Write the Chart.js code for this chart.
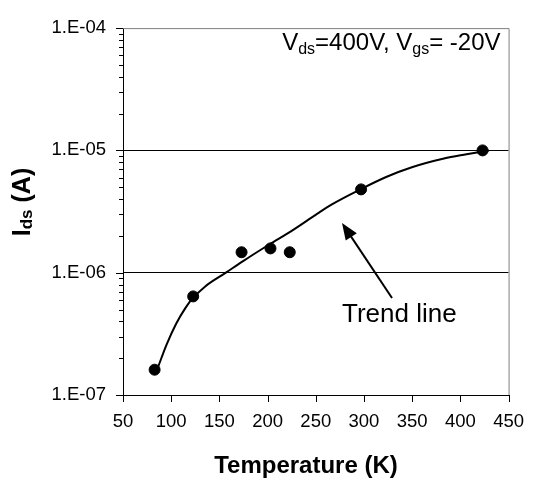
<!DOCTYPE html>
<html>
<head>
<meta charset="UTF-8">
<title>Ids vs Temperature</title>
<style type="text/css">
body { margin: 0; background: #fff; }
#wrap { width: 540px; height: 479px; }
</style>
</head>
<body>
	<div id="wrap"><canvas id="myChart" width="540" height="479"></canvas></div>

<script src="https://cdn.jsdelivr.net/npm/chart.js@4.4.0/dist/chart.umd.min.js"></script>
<script>
	// 측정값 (Temperature K, Ids A)
	var measTemp = [82.8, 122.8, 173, 203, 223, 297, 423];
	var measIds = [1.61e-7, 6.4e-7, 1.47e-6, 1.58e-6, 1.47e-6, 4.8e-6, 1.0e-5];

	// 추세선
	var trendTemp = [86.7, 95, 105, 115, 121.7, 135, 156.7, 175, 201.7, 225, 251.7, 266.3, 297, 323, 349.7, 383, 406.3, 429.7];
	var trendIds = [1.72e-7, 2.56e-7, 3.81e-7, 5.18e-7, 6.1e-7, 7.69e-7, 1.0e-6, 1.25e-6, 1.70e-6, 2.20e-6, 3.04e-6, 3.6e-6, 4.83e-6, 6.06e-6, 7.28e-6, 8.58e-6, 9.29e-6, 1.0e-5];

	// 축 눈금
	var yMajorTicks = [1e-7, 1e-6, 1e-5, 1e-4];
	var yTickLabels = ['1.E-07', '1.E-06', '1.E-05', '1.E-04'];
	var yGridLines = [1e-6, 1e-5];
	var xTicks = [50, 100, 150, 200, 250, 300, 350, 400, 450];

	var FONT = '"Liberation Sans", Arial, sans-serif';

	function toPoints(xs, ys) {
		var out = [];
		for (var i = 0; i < xs.length; i++) out.push({x: xs[i], y: ys[i]});
		return out;
	}

	// 아래첨자 있는 글자 그리기
	function drawParts(ctx, parts, x, y) {
		parts.forEach(function(p) {
			ctx.font = p[1];
			ctx.fillText(p[0], x, y + p[2]);
			x += ctx.measureText(p[0]).width;
		});
	}
	function partsWidth(ctx, parts) {
		var w = 0;
		parts.forEach(function(p) { ctx.font = p[1]; w += ctx.measureText(p[0]).width; });
		return w;
	}

	// 축 눈금, 테두리, 글자 그리기
	var decorPlugin = {
		id: 'decor',
		afterDraw: function(chart) {
			var ctx = chart.ctx;
			var a = chart.chartArea;
			var xs = chart.scales.x, ys = chart.scales.y;
			ctx.save();

			// 위, 오른쪽 테두리 (회색)
			ctx.strokeStyle = '#808080';
			ctx.lineWidth = 1;
			ctx.beginPath();
			ctx.moveTo(a.left, a.top + 0.5);
			ctx.lineTo(a.right + 0.5, a.top + 0.5);
			ctx.lineTo(a.right + 0.5, a.bottom);
			ctx.stroke();

			// 눈금선
			ctx.strokeStyle = '#000';
			ctx.beginPath();
			xTicks.forEach(function(v) {
				var px = Math.round(xs.getPixelForValue(v)) + 0.5;
				ctx.moveTo(px, a.bottom);
				ctx.lineTo(px, a.bottom + 7);
			});
			for (var d = -7; d <= -4; d++) {
				for (var m = 1; m <= 9; m++) {
					var v = m * Math.pow(10, d);
					if (v > 1.0001e-4) break;
					var py = Math.round(ys.getPixelForValue(v)) + 0.5;
					ctx.moveTo(a.left, py);
					ctx.lineTo(a.left - (m === 1 ? 7 : 4), py);
				}
			}
			ctx.stroke();

			// 조건 표시
			ctx.fillStyle = '#000';
			ctx.textBaseline = 'alphabetic';
			ctx.textAlign = 'left';
			var big = '24px ' + FONT, small = '16px ' + FONT;
			var cond = [['V', big, 0], ['ds', small, 4], ['=400V, V', big, 0], ['gs', small, 4], ['= -20V', big, 0]];
			drawParts(ctx, cond, a.right - 8 - partsWidth(ctx, cond), 50);

			// 추세선 화살표
			var x0 = 392, y0 = 298, x1 = 342, y1 = 223;
			var ang = Math.atan2(y1 - y0, x1 - x0);
			ctx.lineWidth = 2;
			ctx.beginPath();
			ctx.moveTo(x0, y0);
			ctx.lineTo(x1 - 14 * Math.cos(ang), y1 - 14 * Math.sin(ang));
			ctx.stroke();
			ctx.beginPath();
			ctx.moveTo(x1, y1);
			ctx.lineTo(x1 - 18 * Math.cos(ang - 0.38), y1 - 18 * Math.sin(ang - 0.38));
			ctx.lineTo(x1 - 18 * Math.cos(ang + 0.38), y1 - 18 * Math.sin(ang + 0.38));
			ctx.closePath();
			ctx.fill();

			ctx.font = '26px ' + FONT;
			ctx.fillText('Trend line', 342, 322);

			// x축 제목
			ctx.font = 'bold 24px ' + FONT;
			ctx.textAlign = 'center';
			ctx.textBaseline = 'middle';
			ctx.fillText('Temperature (K)', 306, 466);

			// y축 제목 (세로)
			ctx.translate(23, 202);
			ctx.rotate(-Math.PI / 2);
			ctx.textAlign = 'left';
			var yparts = [['I', 'bold 25px ' + FONT, 0], ['ds', 'bold 17px ' + FONT, 4], [' (A)', 'bold 25px ' + FONT, 0]];
			drawParts(ctx, yparts, -partsWidth(ctx, yparts) / 2, 0);
			ctx.restore();
		}
	};

	var ctx = document.getElementById('myChart').getContext('2d');
	var chart = new Chart(ctx, {
		type: 'scatter',
		data: {
			datasets: [{
				label: 'Trend line',
				data: toPoints(trendTemp, trendIds),
				showLine: true,
				borderColor: '#000',
				borderWidth: 2,
				pointRadius: 0,
				cubicInterpolationMode: 'monotone',
				fill: false
			}, {
				label: 'Ids',
				data: toPoints(measTemp, measIds),
				backgroundColor: '#000',
				borderColor: '#000',
				pointRadius: 5.5,
				pointHoverRadius: 5.5
			}]
		},
		options: {
			responsive: false,
			animation: false,
			layout: { padding: { left: 0, top: 18, right: 17, bottom: 0 } },
			plugins: { legend: { display: false }, tooltip: { enabled: false } },
			scales: {
				x: {
					type: 'linear',
					min: 50,
					max: 450,
					afterFit: function(s) { s.height = 84; },
					afterBuildTicks: function(s) { s.ticks = xTicks.map(function(v) { return {value: v}; }); },
					grid: { display: false, drawTicks: false },
					border: { display: true, color: '#000', width: 1 },
					ticks: { color: '#000', padding: 16, maxRotation: 0, font: { family: FONT, size: 18.5 } }
				},
				y: {
					type: 'logarithmic',
					min: 1e-7,
					max: 1e-4,
					afterFit: function(s) { s.width = 123; },
					afterBuildTicks: function(s) { s.ticks = yMajorTicks.map(function(v) { return {value: v}; }); },
					grid: {
						drawTicks: false,
						color: function(c) {
							return (c.tick && yGridLines.indexOf(c.tick.value) >= 0) ? '#000' : 'rgba(0,0,0,0)';
						}
					},
					border: { display: true, color: '#000', width: 1 },
					ticks: {
						color: '#000',
						padding: 17,
						font: { family: FONT, size: 18.5 },
						callback: function(v) {
							var i = yMajorTicks.indexOf(v);
							return i >= 0 ? yTickLabels[i] : '';
						}
					}
				}
			}
		},
		plugins: [decorPlugin]
	});
</script>
</body>
</html>
